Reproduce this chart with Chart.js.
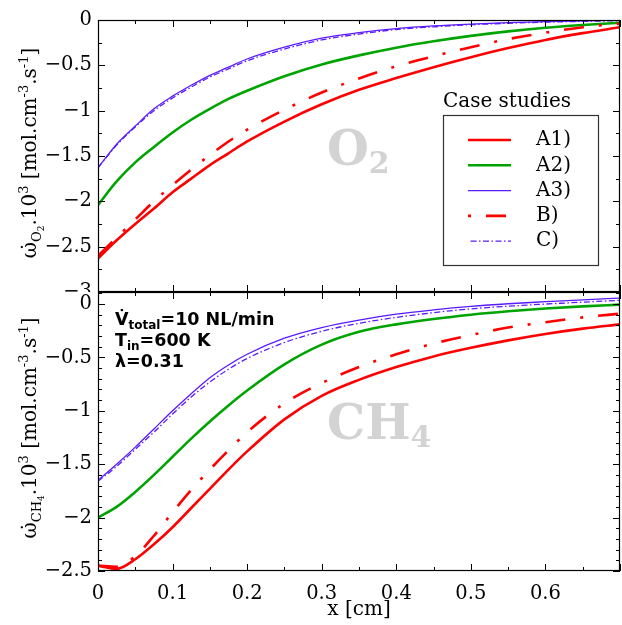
<!DOCTYPE html>
<html>
<head>
<meta charset="utf-8">
<script src="https://cdn.jsdelivr.net/npm/chart.js@4.4.0/dist/chart.umd.min.js"></script>
<style>
  html, body { margin: 0; padding: 0; background: #fff; }
  #wrap { position: relative; width: 622px; height: 625px; }
  #top { position: absolute; left: 0; top: 0; }
  #bot { position: absolute; left: 0; top: 292px; background: #fff; }
</style>
</head>
<body>
<div id="wrap">
  <canvas id="top" width="622" height="300"></canvas>
  <canvas id="bot" width="622" height="333"></canvas>
</div>
<script>
// posições ao longo do tubo [cm]
const xs = [0, 0.025, 0.05, 0.075, 0.1, 0.125, 0.15, 0.175, 0.2, 0.25, 0.3, 0.35, 0.4, 0.45, 0.5, 0.55, 0.6, 0.65, 0.7];

// taxa de O2 (x10^3)
const o2A1 = [-2.63, -2.43, -2.25, -2.08, -1.9, -1.75, -1.6, -1.47, -1.34, -1.12, -0.93, -0.77, -0.64, -0.52, -0.41, -0.31, -0.22, -0.145, -0.08];
const o2A2 = [-2.04, -1.78, -1.57, -1.4, -1.24, -1.1, -0.98, -0.87, -0.78, -0.62, -0.49, -0.39, -0.305, -0.235, -0.175, -0.125, -0.085, -0.055, -0.03];
const o2A3 = [-1.63, -1.37, -1.17, -0.98, -0.84, -0.72, -0.61, -0.52, -0.43, -0.3, -0.2, -0.14, -0.095, -0.065, -0.045, -0.03, -0.018, -0.009, -0.003];
const o2B  = [-2.6, -2.4, -2.2, -2.0, -1.82, -1.65, -1.49, -1.34, -1.21, -0.99, -0.8, -0.645, -0.51, -0.4, -0.3, -0.21, -0.14, -0.08, -0.04];
const o2C  = [-1.63, -1.38, -1.18, -1.0, -0.86, -0.74, -0.63, -0.54, -0.45, -0.32, -0.22, -0.155, -0.105, -0.075, -0.052, -0.036, -0.024, -0.015, -0.008];

// taxa de CH4 (x10^3)
const ch4A1 = [-2.45, -2.48, -2.39, -2.25, -2.09, -1.91, -1.73, -1.55, -1.38, -1.08, -0.86, -0.71, -0.59, -0.49, -0.41, -0.34, -0.28, -0.23, -0.19];
const ch4A2 = [-2.0, -1.9, -1.76, -1.6, -1.43, -1.26, -1.1, -0.95, -0.81, -0.565, -0.38, -0.26, -0.19, -0.14, -0.1, -0.068, -0.042, -0.022, -0.005];
const ch4A3 = [-1.65, -1.5, -1.34, -1.17, -1.0, -0.84, -0.69, -0.57, -0.47, -0.32, -0.22, -0.15, -0.095, -0.055, -0.022, 0.003, 0.022, 0.04, 0.055];
const ch4B  = [-2.45, -2.46, -2.36, -2.17, -1.95, -1.74, -1.55, -1.37, -1.2, -0.93, -0.74, -0.59, -0.47, -0.37, -0.29, -0.22, -0.17, -0.125, -0.09];
const ch4C  = [-1.66, -1.52, -1.36, -1.2, -1.03, -0.87, -0.73, -0.61, -0.51, -0.36, -0.255, -0.18, -0.125, -0.08, -0.045, -0.02, 0.0, 0.018, 0.035];

const seriesNames = ["A1)", "A2)", "A3)", "B)", "C)"];
const xTicks = [0, 0.1, 0.2, 0.3, 0.4, 0.5, 0.6];
const yTicksO2 = [0, -0.5, -1, -1.5, -2, -2.5, -3];
const yTicksCH4 = [0, -0.5, -1, -1.5, -2, -2.5];

// estilos das curvas
const cores = ["#ff0000", "#00a400", "#5a1aff", "#ff0000", "#5a1aff"];
const larguras = [2.6, 2.6, 1.3, 2.6, 1.3];
const tracos = [[], [], [], [20, 15, 3, 15], [6, 2.5, 1.5, 2.5]];

const SERIF = "'DejaVu Serif', serif";
const SANS = "'DejaVu Sans', sans-serif";

function fmtY(v) {
    if (Math.abs(v) < 1e-9) return "0";
    return (v < 0 ? "\u2212" : "") + Math.abs(v);
}

function montaDatasets(series) {
    return series.map((ys, i) => ({
        label: seriesNames[i],
        data: xs.map((x, k) => ({ x: x, y: ys[k] })),
        borderColor: cores[i],
        borderWidth: larguras[i],
        borderDash: tracos[i],
        borderCapStyle: "butt",
        borderJoinStyle: "round",
        pointRadius: 0,
        fill: false,
        cubicInterpolationMode: "monotone",
        order: 4 - i
    }));
}

// texto com sub/sobrescritos: [texto, tamanho, deslocamento]
function textoRico(ctx, runs, family, weight, align) {
    let w = 0;
    runs.forEach(r => { ctx.font = weight + " " + r[1] + "px " + family; w += ctx.measureText(r[0]).width; });
    let x = align === "center" ? -w / 2 : 0;
    runs.forEach(r => {
        ctx.font = weight + " " + r[1] + "px " + family;
        ctx.fillText(r[0], x, r[2]);
        x += ctx.measureText(r[0]).width;
    });
}

// moldura com ticks para dentro
const moldura = {
    id: "moldura",
    afterDatasetsDraw(chart, args, opts) {
        const { ctx, chartArea: a, scales } = chart;
        const sx = scales.x, sy = scales.y;
        ctx.save();
        ctx.strokeStyle = "#000";
        ctx.lineWidth = 1;
        ctx.beginPath();
        for (let k = 0; k * 0.05 <= sx.max + 1e-9; k++) {
            const px = Math.round(sx.getPixelForValue(k * 0.05)) + 0.5;
            const len = k % 2 === 0 ? 7 : 4;
            ctx.moveTo(px, a.top); ctx.lineTo(px, a.top + len);
            ctx.moveTo(px, a.bottom); ctx.lineTo(px, a.bottom - len);
        }
        const passo = opts.yMinor;
        const n = Math.round(opts.yMajor / passo);
        for (let k = Math.ceil(sy.min / passo - 1e-9); k * passo <= sy.max + 1e-9; k++) {
            const py = Math.round(sy.getPixelForValue(k * passo)) + 0.5;
            const len = k % n === 0 ? 7 : 4;
            ctx.moveTo(a.left, py); ctx.lineTo(a.left + len, py);
            ctx.moveTo(a.right, py); ctx.lineTo(a.right - len, py);
        }
        ctx.stroke();
        ctx.lineWidth = 1.2;
        ctx.strokeRect(Math.round(a.left) + 0.5, Math.round(a.top) + 0.5, Math.round(a.width) - 1, Math.round(a.height) - 1);
        ctx.restore();
    }
};

// título do eixo y e rótulo grande de fundo
const textos = {
    id: "textos",
    beforeDatasetsDraw(chart, args, opts) {
        const { ctx, scales } = chart;
        ctx.save();
        ctx.fillStyle = "#d3d3d3";
        ctx.textBaseline = "alphabetic";
        ctx.translate(scales.x.getPixelForValue(opts.big.x), scales.y.getPixelForValue(opts.big.y));
        textoRico(ctx, opts.big.runs, SERIF, "bold", "left");
        ctx.restore();
    },
    afterDraw(chart, args, opts) {
        const { ctx } = chart;
        ctx.save();
        ctx.fillStyle = "#000";
        ctx.textBaseline = "alphabetic";
        ctx.translate(36, opts.tituloY);
        ctx.rotate(-Math.PI / 2);
        textoRico(ctx, opts.titulo, SERIF, "normal", "center");
        ctx.restore();
    }
};

// legenda desenhada a partir dos datasets
const legenda = {
    id: "legenda",
    afterDraw(chart) {
        const { ctx } = chart;
        ctx.save();
        ctx.fillStyle = "#000";
        ctx.font = "20px " + SERIF;
        ctx.textAlign = "center";
        ctx.textBaseline = "middle";
        ctx.fillText("Case studies", 507, 102);
        ctx.fillStyle = "#fff";
        ctx.fillRect(443, 115, 156, 151);
        ctx.strokeStyle = "#333";
        ctx.lineWidth = 1.2;
        ctx.strokeRect(443.5, 115.5, 155, 150);
        chart.data.datasets.forEach((ds, i) => {
            const y = 140 + i * 25.3;
            ctx.beginPath();
            ctx.strokeStyle = ds.borderColor;
            ctx.lineWidth = ds.borderWidth;
            ctx.setLineDash(ds.borderDash);
            ctx.lineDashOffset = ds.borderDash.length ? 35 : 0;
            ctx.moveTo(468, y);
            ctx.lineTo(511, y);
            ctx.stroke();
            ctx.setLineDash([]);
            ctx.fillStyle = "#000";
            ctx.textAlign = "left";
            ctx.fillText(ds.label, 536, y);
        });
        ctx.restore();
    }
};

const anotacao = {
    id: "anotacao",
    afterDraw(chart) {
        const { ctx, chartArea: a } = chart;
        ctx.save();
        ctx.fillStyle = "#000";
        ctx.textBaseline = "alphabetic";
        const linhas = [
            [["V\u0307", 17.5, 0], ["total", 12, 4], ["=10 NL/min", 17.5, 0]],
            [["T", 17.5, 0], ["in", 12, 4], ["=600 K", 17.5, 0]],
            [["\u03bb=0.31", 17.5, 0]]
        ];
        linhas.forEach((runs, i) => {
            ctx.save();
            ctx.translate(a.left + 17, a.top + 33 + i * 21);
            textoRico(ctx, runs, SANS, "bold", "left");
            ctx.restore();
        });
        ctx.restore();
    }
};

function escalaY(min, max, ticks) {
    return {
        type: "linear",
        min: min,
        max: max,
        afterBuildTicks: s => { s.ticks = ticks.map(v => ({ value: v })); },
        afterFit: s => { s.width = 98; s.paddingTop = 0; s.paddingBottom = 0; },
        grid: { display: false, drawTicks: false },
        border: { display: false },
        ticks: { autoSkip: false, padding: 6, color: "#000", font: { family: SERIF, size: 19.5 }, callback: v => fmtY(v) }
    };
}

const comuns = {
    responsive: false,
    animation: false,
    events: [],
    plugins: { legend: { display: false }, tooltip: { enabled: false } }
};

new Chart(document.getElementById("top"), {
    type: "line",
    data: { datasets: montaDatasets([o2A1, o2A2, o2A3, o2B, o2C]) },
    options: Object.assign({}, comuns, {
        layout: { padding: { left: 0, top: 20, right: 2, bottom: 8 } },
        scales: {
            x: { type: "linear", min: 0, max: 0.7, display: false },
            y: escalaY(-3, 0, yTicksO2)
        },
        plugins: Object.assign({}, comuns.plugins, {
            moldura: { yMajor: 0.5, yMinor: 0.25 },
            textos: {
                tituloY: 153,
                titulo: [["\u03c9\u0307", 20, 0], ["O", 13, 5], ["2", 9, 8], [".10", 20, 0], ["3", 13, -8],
                         [" [mol.cm", 20, 0], ["-3", 13, -8], [".s", 20, 0], ["-1", 13, -8], ["]", 20, 0]],
                big: { x: 0.307, y: -1.6, runs: [["O", 48, 0], ["2", 30, 8]] }
            }
        })
    }),
    plugins: [textos, moldura, legenda]
});

new Chart(document.getElementById("bot"), {
    type: "line",
    data: { datasets: montaDatasets([ch4A1, ch4A2, ch4A3, ch4B, ch4C]) },
    options: Object.assign({}, comuns, {
        layout: { padding: { left: 0, top: 0, right: 2, bottom: 0 } },
        scales: {
            x: {
                type: "linear", min: 0, max: 0.7,
                afterBuildTicks: s => { s.ticks = xTicks.map(v => ({ value: v })); },
                afterFit: s => { s.height = 54; s.paddingLeft = 0; s.paddingRight = 0; },
                grid: { display: false, drawTicks: false },
                border: { display: false },
                ticks: { autoSkip: false, maxRotation: 0, padding: 11, color: "#000", font: { family: SERIF, size: 19.5 },
                         callback: v => String(xTicks.find(t => Math.abs(t - v) < 1e-9)) },
                title: { display: true, text: "x [cm]", color: "#000", font: { family: SERIF, size: 20 }, padding: { top: 0, bottom: 3 } }
            },
            y: escalaY(-2.5, 0.113, yTicksCH4)
        },
        plugins: Object.assign({}, comuns.plugins, {
            moldura: { yMajor: 0.5, yMinor: 0.1 },
            textos: {
                tituloY: 428 - 292,
                titulo: [["\u03c9\u0307", 20, 0], ["CH", 13, 5], ["4", 9, 8], [".10", 20, 0], ["3", 13, -8],
                         [" [mol.cm", 20, 0], ["-3", 13, -8], [".s", 20, 0], ["-1", 13, -8], ["]", 20, 0]],
                big: { x: 0.307, y: -1.26, runs: [["CH", 48, 0], ["4", 30, 8]] }
            }
        })
    }),
    plugins: [textos, moldura, anotacao]
});
</script>
</body>
</html>
